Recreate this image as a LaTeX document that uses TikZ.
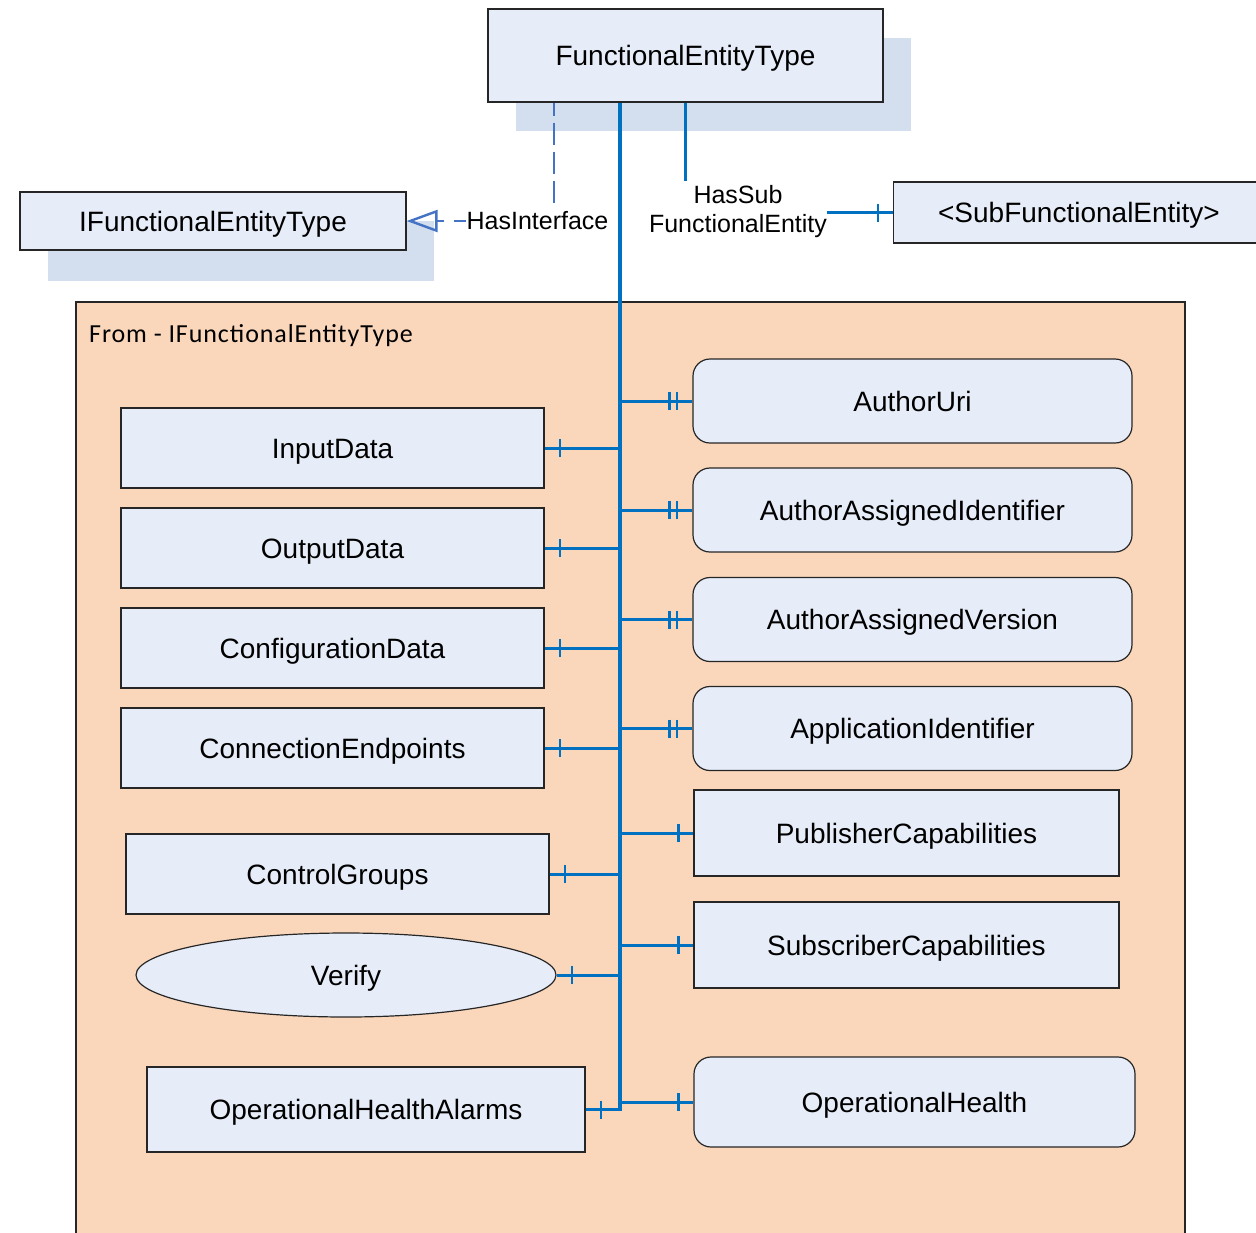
\documentclass[tikz,border=0pt]{standalone}
\usepackage{fontspec}
\setmainfont{Liberation Sans}
\newfontfamily\calfont[LetterSpace=3.5]{Carlito}
\usetikzlibrary{shapes.geometric,arrows.meta,calc}

\definecolor{peach}{HTML}{FAD7BB}
\definecolor{boxfill}{HTML}{E7EDF8}
\definecolor{shade}{HTML}{D3DEEF}
\definecolor{linkblue}{HTML}{0070C0}
\definecolor{ifblue}{HTML}{4472C4}

\newcommand\tickat[2]{\draw[tickmark] (#1) ++(#2,-9) -- ++(0,18);}

\begin{document}
\begin{tikzpicture}[x=1pt,y=-1pt,
  ebox/.style={draw=black!85,line width=1.2pt,fill=boxfill,inner sep=0pt,
    font=\fontsize{28}{33}\selectfont,text height=20pt,text depth=0pt},
  rbox/.style={ebox,rounded corners=17pt},
  shadowbox/.style={fill=shade,draw=none},
  conn/.style={draw=linkblue,line width=3pt},
  trunk/.style={draw=linkblue,line width=3.4pt},
  tickmark/.style={draw=linkblue,line width=2.2pt},
  iface/.style={draw=ifblue,line width=2.8pt,dash pattern=on 22pt off 7pt},
  lbl/.style={inner sep=0pt,font=\fontsize{25}{29}\selectfont,align=center}
]
\clip (0,0) rectangle (1256,1232);
\useasboundingbox (0,0) rectangle (1256,1232);
\fill[white] (0,0) rectangle (1256,1232);

% drop shadows of the two type boxes
\fill[shadowbox] (516,38) rectangle (911,131);
\fill[shadowbox] (48,221) rectangle (434,281);

% inherited-members container
\draw[fill=peach,draw=black!85,line width=1.2pt] (76,302) rectangle (1185,1245);
\node[anchor=base west,inner sep=0pt,font=\calfont\fontsize{26}{30}\selectfont]
  (fromlbl) at (89,342) {From - IFunctionalEntityType};

% type boxes
\node[ebox,minimum width=395pt,minimum height=93pt] (fet) at (685.5,55.5) {FunctionalEntityType};
\node[ebox,minimum width=386pt,minimum height=58pt] (ifet) at (213,221) {IFunctionalEntityType};
\node[ebox,minimum width=380pt,minimum height=61pt,anchor=west] (sub) at (893,212.5) {};
\node[font=\fontsize{28}{33}\selectfont,inner sep=0pt,text height=20pt,text depth=0pt] (subtxt) at (1079,212) {<SubFunctionalEntity>};

% relation labels
\node[lbl] (hasif) at (537.5,221) {HasInterface};
\node[lbl] (hassub) at (738,212) {HasSub\\FunctionalEntity};

% HasInterface reference
\draw[iface,dash phase=9pt] ([xshift=-131.5pt]fet.south) -- ++(0,103);
\draw[iface,dash pattern=on 12pt off 10pt,-{Triangle[open,length=31pt,width=22pt,line width=2.4pt]}] (hasif.west) -- (ifet.east);

% HasSubFunctionalEntity reference
\draw[conn,line width=2.4pt] (fet.south) -- ++(0,78);
\draw[conn,line width=2.4pt] (hassub.east |- sub.west) -- (sub.west);
\tickat{sub.west}{-15}

% left column members
\node[ebox,minimum width=423pt,minimum height=80pt] (input) at (332.5,448) {InputData};
\node[ebox,minimum width=423pt,minimum height=80pt] (output) at (332.5,548) {OutputData};
\node[ebox,minimum width=423pt,minimum height=80pt] (config) at (332.5,648) {ConfigurationData};
\node[ebox,minimum width=423pt,minimum height=80pt] (endpts) at (332.5,748) {ConnectionEndpoints};
\node[ebox,minimum width=423pt,minimum height=80pt] (ctrl) at (337.5,874) {ControlGroups};
\node[ebox,ellipse,minimum width=420pt,minimum height=84pt] (verify) at (346,975) {Verify};
\node[ebox,minimum width=438pt,minimum height=85pt] (opha) at (366,1109.5) {OperationalHealthAlarms};

% right column members
\node[rbox,minimum width=439pt,minimum height=84pt] (uri) at (912.5,401) {AuthorUri};
\node[rbox,minimum width=439pt,minimum height=84pt] (aaid) at (912.5,510) {AuthorAssignedIdentifier};
\node[rbox,minimum width=439pt,minimum height=84pt] (aaver) at (912.5,619.5) {AuthorAssignedVersion};
\node[rbox,minimum width=439pt,minimum height=84pt] (appid) at (912.5,728.5) {ApplicationIdentifier};
\node[ebox,minimum width=425pt,minimum height=86pt] (pub) at (906.5,833) {PublisherCapabilities};
\node[ebox,minimum width=425pt,minimum height=86pt] (subs) at (906.5,945) {SubscriberCapabilities};
\node[rbox,minimum width=441pt,minimum height=90pt] (oph) at (914.5,1102) {OperationalHealth};

% HasComponent trunk
\coordinate (tk) at (620,0);
\draw[trunk] ([xshift=-65.5pt]fet.south) -- (opha.east -| tk) -- (opha.east);

% branches to the left
\foreach \n in {input,output,config,endpts,ctrl,verify}{
  \draw[conn] (\n.east) -- (\n.east -| tk);
  \tickat{\n.east}{15.5}
}
\tickat{opha.east}{15}

% branches to the right
\foreach \n in {uri,aaid,aaver,appid}{
  \draw[conn] (\n.west -| tk) -- (\n.west);
  \tickat{\n.west}{-23}
  \tickat{\n.west}{-15.5}
}
\foreach \n in {pub,subs,oph}{
  \draw[conn] (\n.west -| tk) -- (\n.west);
  \tickat{\n.west}{-15}
}
\end{tikzpicture}
\end{document}
